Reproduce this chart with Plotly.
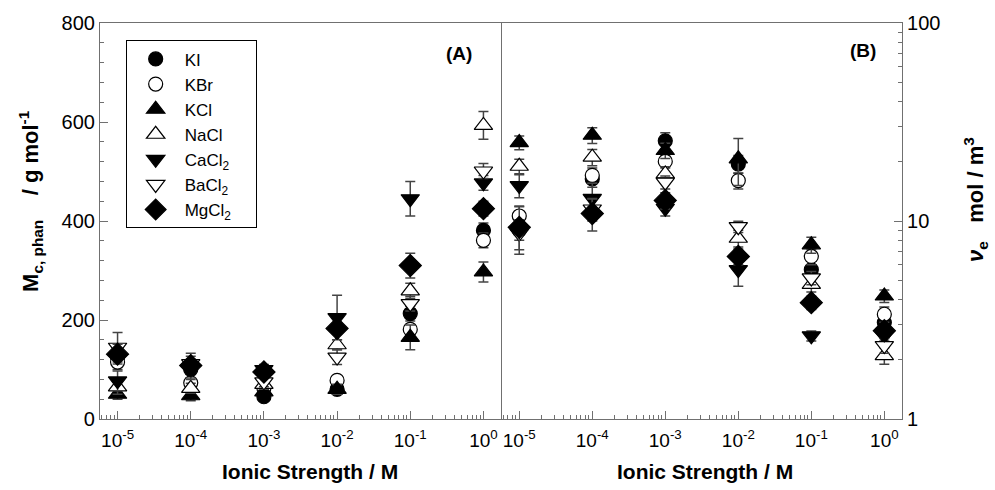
import plotly.graph_objects as go

ionic = [1e-5, 1e-4, 1e-3, 1e-2, 1e-1, 1e0]
names = ["KI", "KBr", "KCl", "NaCl", "CaCl<sub>2</sub>", "BaCl<sub>2</sub>", "MgCl<sub>2</sub>"]

# Panel A: M_c,phan (g/mol)
mc_KI = [125, 100, 45, 60, 213, 381]
mc_KBr = [115, 73, 62, 78, 181, 361]
mc_KCl = [50, 47, 55, 60, 165, 297]
mc_NaCl = [65, 62, 70, 150, 259, 593]
mc_CaCl2 = [77, 100, 100, 205, 445, 477]
mc_BaCl2 = [145, 112, 75, 125, 233, 501]
mc_MgCl2 = [131, 108, 95, 183, 310, 425]

mc_err_KI = [10, 10, 5, 10, 15, 15]
mc_err_KBr = [15, 10, 10, 10, 10, 15]
mc_err_KCl = [10, 10, 5, 10, 25, 20]
mc_err_NaCl = [15, 10, 10, 10, 15, 28]
mc_err_CaCl2 = [20, 20, 10, 45, 35, 15]
mc_err_BaCl2 = [30, 15, 10, 15, 15, 15]
mc_err_MgCl2 = [20, 25, 10, 10, 25, 15]

# Panel B: nu_e (mol/m^3)
ve_KI = [9.0, 16.3, 25.4, 19.4, 5.68, 3.07]
ve_KBr = [10.6, 17.0, 20.0, 16.0, 6.62, 3.38]
ve_KCl = [24.9, 27.1, 22.7, 20.6, 7.58, 4.18]
ve_NaCl = [18.9, 21.0, 17.3, 8.18, 4.78, 2.09]
ve_CaCl2 = [15.1, 13.0, 11.6, 5.68, 2.63, 2.63]
ve_BaCl2 = [8.66, 11.5, 15.7, 9.36, 5.16, 2.35]
ve_MgCl2 = [9.29, 10.9, 12.7, 6.62, 3.87, 2.79]

ve_err_KI = [1.0, 1.5, 2.5, 2.0, 0.6, 0.3]
ve_err_KBr = [1.3, 1.5, 1.5, 1.5, 0.6, 0.3]
ve_err_KCl = [2.0, 2.5, 2.0, 5.5, 0.7, 0.3]
ve_err_NaCl = [1.6, 2.0, 1.5, 0.8, 0.4, 0.2]
ve_err_CaCl2 = [2.0, 2.5, 1.0, 1.0, 0.15, 0.15]
ve_err_BaCl2 = [1.5, 1.5, 1.2, 0.6, 0.4, 0.2]
ve_err_MgCl2 = [2.5, 2.0, 1.2, 0.6, 0.3, 0.2]

mc_vals = [mc_KI, mc_KBr, mc_KCl, mc_NaCl, mc_CaCl2, mc_BaCl2, mc_MgCl2]
mc_errs = [mc_err_KI, mc_err_KBr, mc_err_KCl, mc_err_NaCl, mc_err_CaCl2, mc_err_BaCl2, mc_err_MgCl2]
ve_vals = [ve_KI, ve_KBr, ve_KCl, ve_NaCl, ve_CaCl2, ve_BaCl2, ve_MgCl2]
ve_errs = [ve_err_KI, ve_err_KBr, ve_err_KCl, ve_err_NaCl, ve_err_CaCl2, ve_err_BaCl2, ve_err_MgCl2]

symbols = ["circle", "circle", "triangle-up", "triangle-up", "triangle-down", "triangle-down", "diamond"]
fills = ["black", "white", "black", "white", "black", "white", "black"]
sizes = [14, 14, 16, 16, 16, 16, 17]

xtick_vals = [1e-5, 1e-4, 1e-3, 1e-2, 1e-1, 1e0]
xtick_text = ["10<sup>-5</sup>", "10<sup>-4</sup>", "10<sup>-3</sup>", "10<sup>-2</sup>", "10<sup>-1</sup>", "10<sup>0</sup>"]
x_minor = [m * 10.0 ** e for e in range(-6, 1) for m in range(2, 10)]
y2_minor = [m * 10.0 ** e for e in range(0, 2) for m in range(2, 10)]

FONT = "Liberation Sans, Arial, sans-serif"
LINE = "#707070"
ERRC = "#444444"
PAD = "\u00a0\u00a0\u00a0\u00a0"

fig = go.Figure()
for i, nm in enumerate(names):
    mk = dict(symbol=symbols[i], size=sizes[i], color=fills[i], line=dict(color="black", width=1.2))
    fig.add_trace(go.Scatter(
        x=ionic, y=mc_vals[i], mode="markers", name=nm + PAD, legendgroup=nm, marker=mk,
        error_y=dict(type="data", array=mc_errs[i], color=ERRC, thickness=1.5, width=5),
        xaxis="x", yaxis="y"))
    fig.add_trace(go.Scatter(
        x=ionic, y=ve_vals[i], mode="markers", name=nm, legendgroup=nm, marker=mk, showlegend=False,
        error_y=dict(type="data", array=ve_errs[i], color=ERRC, thickness=1.5, width=5),
        xaxis="x2", yaxis="y2"))

xcommon = dict(type="log", showline=True, linecolor=LINE, linewidth=1.2, mirror=True,
               ticks="inside", ticklen=8, tickcolor=LINE, tickwidth=1.2,
               tickmode="array", tickvals=xtick_vals, ticktext=xtick_text, ticklabelstandoff=4,
               minor=dict(ticks="inside", ticklen=4, tickcolor=LINE, tickwidth=1, tickmode="array", tickvals=x_minor),
               showgrid=False, zeroline=False, tickfont=dict(size=19, color="black", family=FONT))

fig.update_layout(
    width=995, height=490,
    margin=dict(l=100, r=93, t=20, b=71),
    plot_bgcolor="white", paper_bgcolor="white",
    font=dict(family=FONT, color="black"),
    xaxis=dict(domain=[0, 0.5], range=[-5.24, 0.24], anchor="y", **xcommon),
    xaxis2=dict(domain=[0.5, 1], range=[-5.25, 0.242], anchor="y2", **xcommon),
    yaxis=dict(range=[0, 800], anchor="x", showline=True, linecolor=LINE, linewidth=1.2, mirror=True,
               ticks="inside", ticklen=8, tickcolor=LINE, tickwidth=1.2, dtick=200, tick0=0,
               minor=dict(ticks="inside", ticklen=4, tickcolor=LINE, dtick=40),
               showgrid=False, zeroline=False, tickfont=dict(size=20, color="black", family=FONT)),
    yaxis2=dict(type="log", range=[0, 2], anchor="x2", side="right", showline=True, linecolor=LINE,
                linewidth=1.2, mirror=False, ticks="inside", ticklen=8, tickcolor=LINE, tickwidth=1.2,
                tickmode="array", tickvals=[1, 10, 100], ticktext=["1", "10", "100"],
                minor=dict(ticks="inside", ticklen=4, tickcolor=LINE, tickmode="array", tickvals=y2_minor),
                showgrid=False, zeroline=False, tickfont=dict(size=20, color="black", family=FONT)),
    legend=dict(x=0.032, y=0.956, xanchor="left", yanchor="top", bordercolor="black", borderwidth=1,
                bgcolor="white", font=dict(size=17, family=FONT), tracegroupgap=0, itemsizing="trace",
                itemwidth=48),
    showlegend=True,
)

annots = [
    dict(text="<b>(A)</b>", x=459, y=50),
    dict(text="<b>(B)</b>", x=863, y=47),
]
for a in annots:
    fig.add_annotation(text=a["text"], xref="paper", yref="paper",
                       x=(a["x"] - 100) / 802, y=(419 - a["y"]) / 399.5,
                       showarrow=False, font=dict(size=19, family=FONT), xanchor="center", yanchor="middle")

fig.add_annotation(text="<b>Ionic Strength / M</b>", xref="paper", yref="paper", x=(310 - 100) / 802,
                   y=(419 - 472) / 399.5, showarrow=False, font=dict(size=21, family=FONT),
                   xanchor="center", yanchor="middle")
fig.add_annotation(text="<b>Ionic Strength / M</b>", xref="paper", yref="paper", x=(705 - 100) / 802,
                   y=(419 - 472) / 399.5, showarrow=False, font=dict(size=21, family=FONT),
                   xanchor="center", yanchor="middle")
fig.add_annotation(text="<b>M<sub>c, phan</sub>    / g mol<sup>-1</sup></b>", xref="paper", yref="paper",
                   x=(31 - 100) / 802, y=(419 - 199) / 399.5, showarrow=False, textangle=-90,
                   font=dict(size=22, family=FONT), xanchor="center", yanchor="middle")
fig.add_annotation(text="<b><i>ν</i><sub>e</sub>   mol / m<sup>3</sup></b>", xref="paper", yref="paper",
                   x=(976 - 100) / 802, y=(419 - 197) / 399.5, showarrow=False, textangle=-90,
                   font=dict(size=22, family=FONT), xanchor="center", yanchor="middle")

fig.write_html("out.html")
